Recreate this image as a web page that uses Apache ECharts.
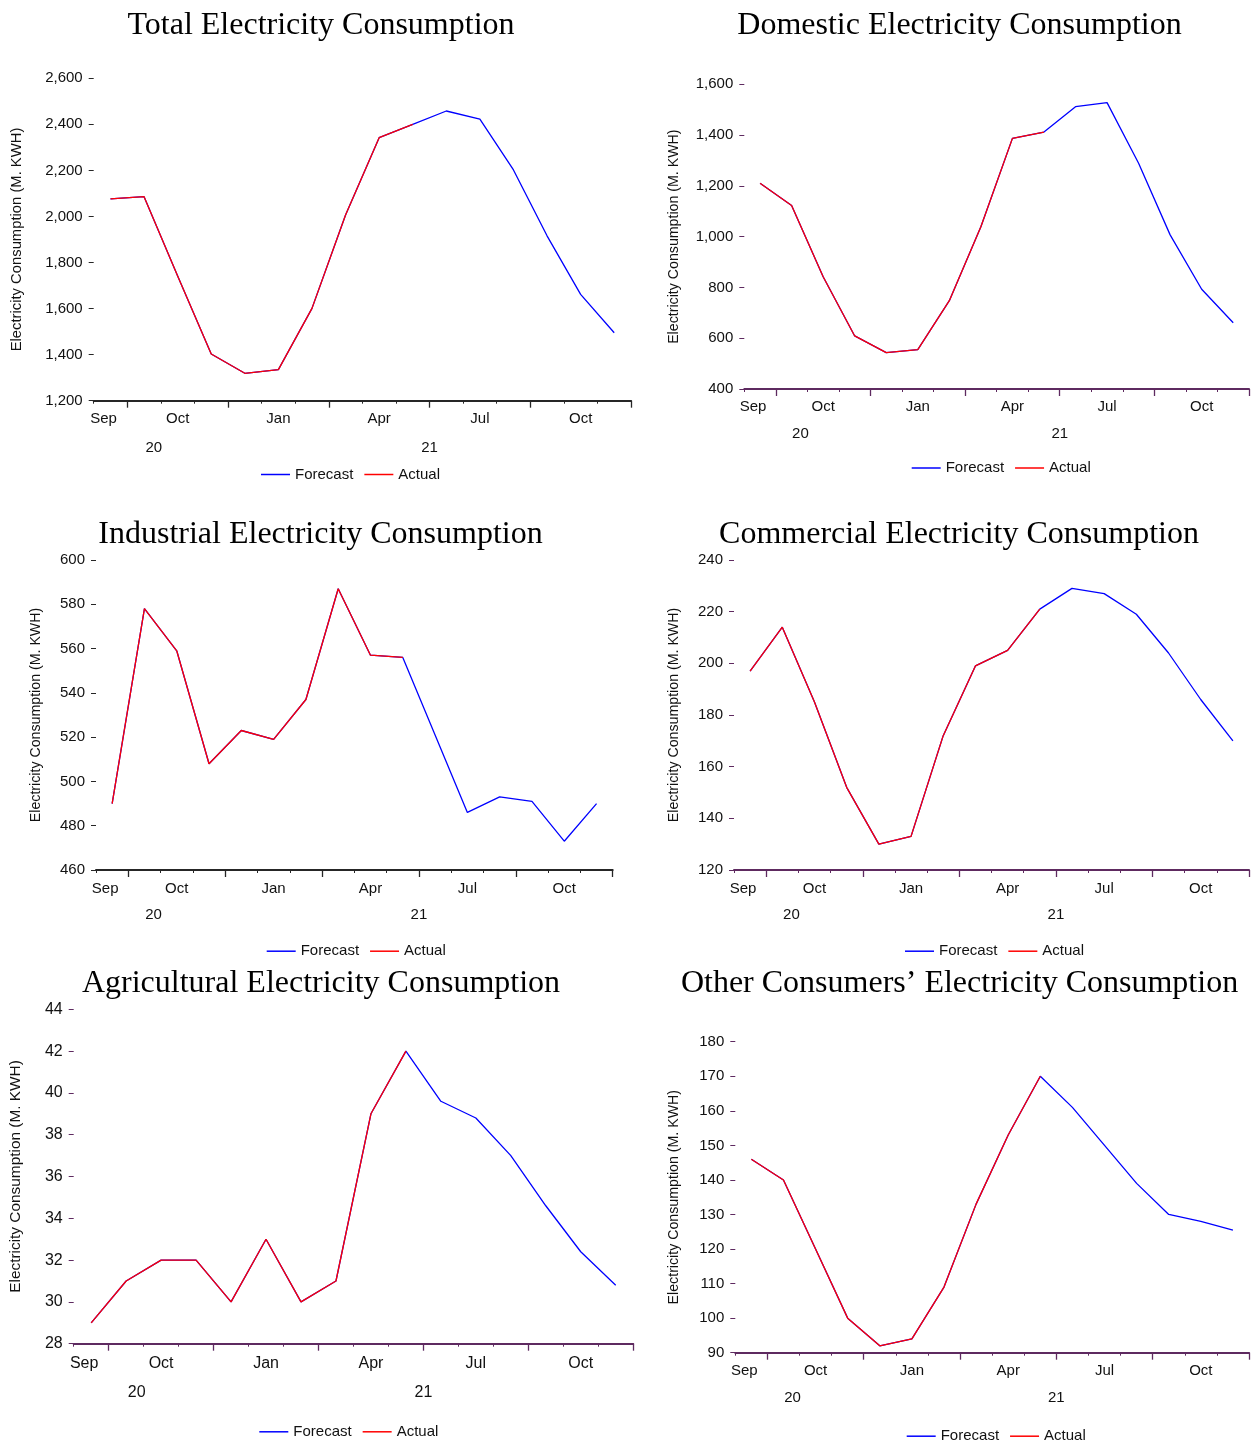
<!DOCTYPE html>
<html>
<head>
<meta charset="utf-8">
<script src="https://cdn.jsdelivr.net/npm/echarts@6/dist/echarts.min.js"></script>
<style>
  html, body { margin: 0; padding: 0; background: #ffffff; }
  #chart { width: 1252px; height: 1444px; }
</style>
</head>
<body>
<div id="chart"></div>
<script>
// Monthly periods, Sep 2020 – Dec 2021
const months = ['2020-09', '2020-10', '2020-11', '2020-12',
  '2021-01', '2021-02', '2021-03', '2021-04', '2021-05', '2021-06',
  '2021-07', '2021-08', '2021-09', '2021-10', '2021-11', '2021-12'];

// Quarter labels sit under the middle month of each quarter
const monthTickLabels = ['Sep', '', 'Oct', '', '', 'Jan', '', '', 'Apr', '', '', 'Jul', '', '', 'Oct', ''];
const yearTickLabels = { '2020': '20', '2021': '21' };
const seriesNames = ['Forecast', 'Actual'];

// Consumption, million kWh
const totalForecast = [2076, 2086, 1742, 1403, 1319, 1335, 1601, 2006, 2342, 2400, 2458, 2423, 2202, 1916, 1662, 1495];
const totalActual = [2076, 2086, 1742, 1403, 1319, 1335, 1601, 2006, 2342, 2400];

const domesticForecast = [1210, 1123, 842, 609, 543, 555, 748, 1039, 1387, 1412, 1512, 1528, 1289, 1007, 793, 661];
const domesticActual = [1210, 1123, 842, 609, 543, 555, 748, 1039, 1387, 1412];

const industrialForecast = [490, 578, 559, 508, 523, 519, 537, 587, 557, 556, 521, 486, 493, 491, 473, 490];
const industrialActual = [490, 578, 559, 508, 523, 519, 537, 587, 557, 556];

const commercialForecast = [197, 214, 185, 152, 130, 133, 172, 199, 205, 221, 229, 227, 219, 204, 186, 170];
const commercialActual = [197, 214, 185, 152, 130, 133, 172, 199, 205, 221];

const agriculturalForecast = [29, 31, 32, 32, 30, 33, 30, 31, 39, 42, 39.6, 38.8, 37, 34.6, 32.4, 30.8];
const agriculturalActual = [29, 31, 32, 32, 30, 33, 30, 31, 39, 42];

const otherForecast = [146, 140, 120, 100, 92, 94, 109, 133, 153, 170, 161, 150, 139, 130, 128, 125.5];
const otherActual = [146, 140, 120, 100, 92, 94, 109, 133, 153, 170];

// Value-axis scales: [min, max, step]
const totalScale = [1200, 2600, 200];
const domesticScale = [400, 1600, 200];
const industrialScale = [460, 600, 20];
const commercialScale = [120, 240, 20];
const agriculturalScale = [28, 44, 2];
const otherScale = [90, 180, 10];

const yAxisTitle = 'Electricity Consumption (M. KWH)';

// ---- layout and styling ----
const DARK = '#262626';
const PURPLE = '#5e2a60';
const SANS = '"Liberation Sans", Arial, sans-serif';
const SERIF = '"Liberation Serif", "Times New Roman", serif';
const PAD = 5; // default component padding of title / legend
const LEAD_SHIFT = 14; // the leading partial-period labels sit a little left of centre

const panels = [
  { title: 'Total Electricity Consumption', forecast: totalForecast, actual: totalActual, scale: totalScale,
    titleX: 321, titleY: 24, left: 93.7, top: 78.3, width: 537.3, height: 322.4,
    nameX: 17.5, nameSize: 14.8, fs: 15, monthMargin: 11, yearMargin: 39.5, legendX: 261, legendY: 475, axisColor: DARK },
  { title: 'Domestic Electricity Consumption', forecast: domesticForecast, actual: domesticActual, scale: domesticScale,
    titleX: 959.5, titleY: 24, left: 744.3, top: 84.3, width: 506.8, height: 304.7,
    nameX: 674, nameSize: 14.2, fs: 15, monthMargin: 10.5, yearMargin: 37, legendX: 911.7, legendY: 468.5, axisColor: PURPLE },
  { title: 'Industrial Electricity Consumption', forecast: industrialForecast, actual: industrialActual, scale: industrialScale,
    titleX: 320.5, titleY: 533, left: 96, top: 560, width: 516.7, height: 310,
    nameX: 36.3, nameSize: 14.2, fs: 15, monthMargin: 11.5, yearMargin: 37.5, legendX: 266.7, legendY: 951.7, axisColor: DARK },
  { title: 'Commercial Electricity Consumption', forecast: commercialForecast, actual: commercialActual, scale: commercialScale,
    titleX: 959, titleY: 533, left: 734, top: 560, width: 517, height: 310,
    nameX: 674, nameSize: 14.2, fs: 15, monthMargin: 11, yearMargin: 37, legendX: 905, legendY: 951.7, axisColor: PURPLE },
  { title: 'Agricultural Electricity Consumption', forecast: agriculturalForecast, actual: agriculturalActual, scale: agriculturalScale,
    titleX: 321, titleY: 982, left: 73.7, top: 1009.3, width: 559.5, height: 334.4,
    nameX: 16, nameSize: 15.4, fs: 16, monthMargin: 12, yearMargin: 40.5, legendX: 259.3, legendY: 1432.3, axisColor: PURPLE },
  { title: 'Other Consumers\u2019 Electricity Consumption', forecast: otherForecast, actual: otherActual, scale: otherScale,
    titleX: 959.5, titleY: 982, left: 735.3, top: 1041.7, width: 515.7, height: 311,
    nameX: 674, nameSize: 14.2, fs: 15, monthMargin: 10.8, yearMargin: 37.3, legendX: 906.7, legendY: 1436.7, axisColor: PURPLE }
];

// Quarter boundaries fall on the first month of each calendar quarter
const isQuarterStart = (i) => ['01', '04', '07', '10'].includes(months[i].slice(5));

// Year label anchors: centre of each year's span of months (in month units)
const yearCenters = {};
let firstYearCenter = null;
(function () {
  const spans = {};
  months.forEach((m, i) => {
    const y = m.slice(0, 4);
    if (!spans[y]) spans[y] = { first: i, count: 0 };
    spans[y].count++;
  });
  Object.keys(spans).forEach((y) => {
    const c = spans[y].first + spans[y].count / 2;
    if (firstYearCenter === null) firstYearCenter = c;
    yearCenters[c] = yearTickLabels[y];
  });
})();

const fmtThousands = (v) => String(v).replace(/\B(?=(\d{3})+(?!\d))/g, ',');

const option = {
  animation: false,
  backgroundColor: '#ffffff',
  title: [], grid: [], xAxis: [], yAxis: [], series: [], legend: []
};

panels.forEach((p, k) => {
  const labelRich = { lead: { padding: [0, LEAD_SHIFT, 0, 0], fontSize: p.fs, fontFamily: SANS, color: '#111111' } };

  option.title.push({
    text: p.title, left: p.titleX - PAD, top: p.titleY - 16 - PAD + 2, textAlign: 'center',
    textStyle: { fontFamily: SERIF, fontSize: 32, fontWeight: 'normal', color: '#000000' }
  });

  option.grid.push({ left: p.left, top: p.top, width: p.width, height: p.height, containLabel: false });

  // month axis: line, short ticks, quarter labels
  option.xAxis.push({
    type: 'category', gridIndex: k, data: months, boundaryGap: true, position: 'bottom',
    axisLine: { show: true, onZero: false, lineStyle: { color: p.axisColor, width: 2 } },
    axisTick: { show: true, interval: 0, length: 3, lineStyle: { color: p.axisColor, width: 1 } },
    axisLabel: {
      interval: (i) => monthTickLabels[i] !== '',
      formatter: (v, i) => (i === 0 ? '{lead|' + monthTickLabels[i] + '}' : monthTickLabels[i]),
      rich: labelRich,
      margin: p.monthMargin, fontSize: p.fs, fontFamily: SANS, color: '#111111'
    },
    splitLine: { show: false }
  });
  // quarter-boundary ticks
  option.xAxis.push({
    type: 'category', gridIndex: k, data: months, boundaryGap: true, position: 'bottom',
    axisLine: { show: false, onZero: false },
    axisTick: { show: true, interval: (i) => isQuarterStart(i), length: 7, lineStyle: { color: p.axisColor, width: 1.3 } },
    axisLabel: { show: false },
    splitLine: { show: false }
  });
  // year labels
  option.xAxis.push({
    type: 'value', gridIndex: k, min: 0, max: months.length, interval: 2, position: 'bottom',
    axisLine: { show: false, onZero: false }, axisTick: { show: false }, splitLine: { show: false },
    axisLabel: {
      formatter: (v) => {
        const t = yearCenters[v];
        if (!t) return '';
        return v === firstYearCenter ? '{lead|' + t + '}' : t;
      },
      rich: labelRich,
      margin: p.yearMargin, fontSize: p.fs, fontFamily: SANS, color: '#111111',
      showMinLabel: true, showMaxLabel: true
    }
  });

  option.yAxis.push({
    type: 'value', gridIndex: k, min: p.scale[0], max: p.scale[1], interval: p.scale[2],
    axisLine: { show: false },
    axisTick: { show: true, length: 5, lineStyle: { color: p.axisColor, width: 1 } },
    axisLabel: { formatter: fmtThousands, margin: 11, fontSize: p.fs, fontFamily: SANS, color: '#111111' },
    splitLine: { show: false },
    name: yAxisTitle, nameLocation: 'middle', nameRotate: 90,
    nameGap: (p.left - p.nameX) - p.nameSize / 2,
    nameTextStyle: { fontFamily: SANS, fontSize: p.nameSize, color: '#111111' }
  });

  option.series.push({
    name: seriesNames[0], type: 'line', xAxisIndex: 3 * k, yAxisIndex: k,
    data: p.forecast, showSymbol: false, symbol: 'none', color: '#0000ff',
    lineStyle: { color: '#0000ff', width: 1.3 }, z: 2
  });
  option.series.push({
    name: seriesNames[1], type: 'line', xAxisIndex: 3 * k, yAxisIndex: k,
    data: p.actual, showSymbol: false, symbol: 'none', color: '#ff0000',
    lineStyle: { color: '#ff0000', width: 1.3 }, z: 3
  });

  option.legend.push({
    data: seriesNames, left: p.legendX - PAD, top: p.legendY - 8 - PAD, orient: 'horizontal',
    icon: 'rect', itemWidth: 29, itemHeight: 1.5, itemGap: 11, selectedMode: false,
    textStyle: { fontFamily: SANS, fontSize: 15, color: '#111111' }
  });
});

const chart = echarts.init(document.getElementById('chart'), null, { renderer: 'canvas' });
chart.setOption(option);
</script>
</body>
</html>
